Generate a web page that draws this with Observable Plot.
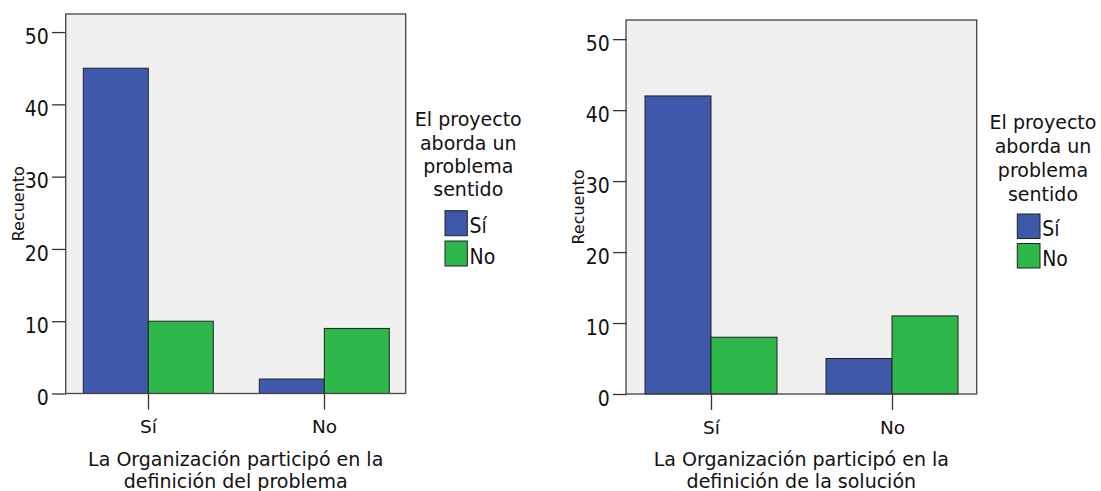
<!DOCTYPE html>
<html><head><meta charset="utf-8">
<script src="https://cdn.jsdelivr.net/npm/d3@7"></script>
<script src="https://cdn.jsdelivr.net/npm/@observablehq/plot@0.6"></script>
<style>
body{margin:0;background:#fff;}
#wrap{position:relative;width:1101px;height:491px;overflow:hidden;background:#fff;}
#wrap svg{position:absolute;top:0;}
</style></head><body><div id="wrap"></div>
<script>
// ---- data ----
const categories = ["Sí", "No"];            // La Organización participó ...
const seriesNames = ["Sí", "No"];           // El proyecto aborda un problema sentido
const problemaSi = [45, 2];
const problemaNo = [10, 9];
const solucionSi = [42, 5];
const solucionNo = [8, 11];
const yTicks = [0, 10, 20, 30, 40, 50];
const yMaxes = [52.5, 52.7];
const seriesColors = ["#3e58aa", "#2eb84b"];
const xTitles = [
  ["La Organización participó en la", "definición del problema"],
  ["La Organización participó en la", "definición de la solución"]
];
const yTitle = "Recuento";
const legendTitle = ["El proyecto", "aborda un", "problema", "sentido"];

const H = 491;
const NARROW = "'DejaVu Sans Condensed', 'DejaVu Sans', sans-serif";
const wrap = document.getElementById("wrap");

function panel(o) {
  const data = [];
  categories.forEach((c, i) => {
    data.push({cat: c, series: seriesNames[0], value: o.si[i]});
    data.push({cat: c, series: seriesNames[1], value: o.no[i]});
  });
  const plot = Plot.plot({
    width: o.width, height: H,
    marginLeft: o.ml, marginRight: o.mr, marginTop: o.mt, marginBottom: o.mb,
    style: {background: "transparent", overflow: "visible", fontFamily: "DejaVu Sans", color: "#111"},
    fx: {domain: categories, paddingInner: 0.07, paddingOuter: 0, label: null},
    x: {domain: seriesNames, paddingInner: 0, paddingOuter: 0.255, axis: null},
    y: {domain: [0, o.yMax], label: null},
    color: {domain: seriesNames, range: seriesColors},
    marks: [
      Plot.barY(data, {fx: "cat", x: "series", y: "value", fill: "series", stroke: "#222", strokeWidth: 1}),
      Plot.axisY({ticks: yTicks, tickSize: 14, fill: "none", stroke: "#333", strokeWidth: 1.3, label: null}),
      Plot.axisY({ticks: yTicks, tickSize: 14, tickPadding: 3.7, stroke: "none", fill: "#111",
        fontSize: 21, fontFamily: NARROW, fontStretch: "condensed", dy: 4.6, label: null}),
      Plot.axisFx({anchor: "bottom", tickSize: 16, tickPadding: 10, stroke: "#333", strokeWidth: 1.3, fill: "#111",
        fontSize: 18.5, fontFamily: "DejaVu Sans", label: null})
    ]
  });
  plot.style.left = o.left + "px";
  const svg = d3.select(plot);
  const x0 = o.ml, x1 = o.width - o.mr, y0 = o.mt, y1 = H - o.mb;
  svg.insert("rect", ":first-child")
    .attr("x", x0).attr("y", y0).attr("width", x1 - x0).attr("height", y1 - y0)
    .attr("fill", "#f0f0f0");
  svg.append("rect")
    .attr("x", x0).attr("y", y0).attr("width", x1 - x0).attr("height", y1 - y0)
    .attr("fill", "none").attr("stroke", "#444").attr("stroke-width", 1.3);
  // y title
  svg.append("text")
    .attr("transform", `translate(${x0 - 42},${(y0 + y1) / 2}) rotate(-90)`)
    .attr("text-anchor", "middle")
    .style("font-family", "DejaVu Sans").style("font-size", "16px").attr("fill", "#111")
    .text(yTitle);
  // x title
  o.title.forEach((t, i) => {
    svg.append("text")
      .attr("x", (x0 + x1) / 2).attr("y", 465.7 + i * 22.5)
      .attr("text-anchor", "middle")
      .style("font-family", "DejaVu Sans").style("font-size", "19px").attr("fill", "#111")
      .text(t);
  });
  // legend
  const color = plot.scale("color");
  legendTitle.forEach((t, i) => {
    svg.append("text")
      .attr("x", o.lcx).attr("y", o.lb[i])
      .attr("text-anchor", "middle")
      .style("font-family", "DejaVu Sans").style("font-size", "19px").attr("fill", "#111")
      .text(t);
  });
  color.domain.forEach((d, i) => {
    svg.append("rect")
      .attr("x", o.sx).attr("y", o.sy[i]).attr("width", o.sw).attr("height", o.sh)
      .attr("fill", color.range[i]).attr("stroke", "#222").attr("stroke-width", 1);
    svg.append("text")
      .attr("x", o.sx + o.sw + 2.2).attr("y", o.sy[i] + o.sh - 2.4)
      .attr("text-anchor", "start")
      .style("font-family", NARROW).style("font-stretch", "condensed").style("font-size", "21px").attr("fill", "#111")
      .text(d);
  });
  wrap.appendChild(plot);
}

panel({left: 0, width: 560, ml: 65.7, mr: 154.3, mt: 14, mb: 97.5, yMax: yMaxes[0],
  si: problemaSi, no: problemaNo, title: xTitles[0],
  lcx: 468.3, lb: [126, 149.5, 173, 196.3], sx: 445, sw: 22.3, sh: 25, sy: [210.7, 241]});
panel({left: 560, width: 541, ml: 66, mr: 124.3, mt: 20, mb: 97, yMax: yMaxes[1],
  si: solucionSi, no: solucionNo, title: xTitles[1],
  lcx: 483, lb: [129.3, 153.3, 177.3, 200.7], sx: 457.3, sw: 22.7, sh: 24.5, sy: [214, 243.5]});
</script></body></html>
